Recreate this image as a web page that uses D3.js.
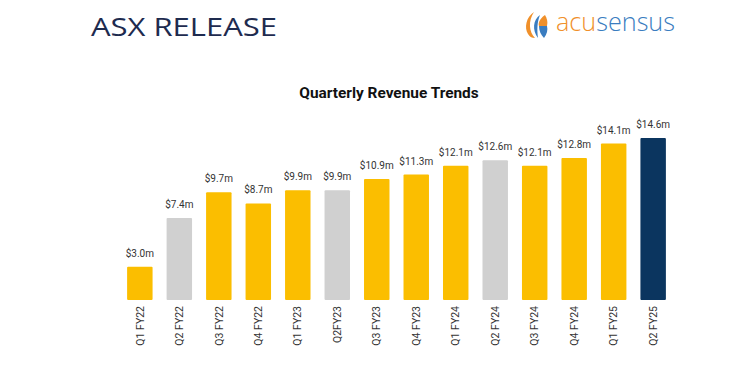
<!DOCTYPE html>
<html>
<head>
<meta charset="utf-8">
<script src="https://cdn.jsdelivr.net/npm/d3@7"></script>
<style>
  body { margin: 0; background: #fff; }
</style>
</head>
<body>
<div id="chart"></div>
<script>
// Chart data
const quarters = ["Q1 FY22", "Q2 FY22", "Q3 FY22", "Q4 FY22", "Q1 FY23", "Q2FY23", "Q3 FY23",
  "Q4 FY23", "Q1 FY24", "Q2 FY24", "Q3 FY24", "Q4 FY24", "Q1 FY25", "Q2 FY25"];
const revenue = [3.0, 7.4, 9.7, 8.7, 9.9, 9.9, 10.9, 11.3, 12.1, 12.6, 12.1, 12.8, 14.1, 14.6];
const barKinds = ["odd", "even", "odd", "odd", "odd", "even", "odd",
  "odd", "odd", "even", "odd", "odd", "odd", "latest"];

const width = 752;
const height = 392;

const kindColor = { odd: "#FBBE00", even: "#D0D0D0", latest: "#0B355F" };

const svg = d3.select("#chart").append("svg")
  .attr("width", width)
  .attr("height", height);

// Header
svg.append("text")
  .attr("x", 91)
  .attr("y", 36)
  .attr("textLength", 186)
  .attr("lengthAdjust", "spacingAndGlyphs")
  .style("font-family", "'Open Sans', sans-serif")
  .style("font-size", "25px")
  .style("fill", "#1E2B4F")
  .text("ASX RELEASE");

// Logo
const logo = svg.append("g").attr("transform", "translate(526,12)");
logo.append("path")
  .attr("d", "M8,0 C0,5 -2,16 2,22 C4,25 6,26 9,26 C3,20 2,9 8,0 Z")
  .attr("fill", "#F0902A");
logo.append("path")
  .attr("d", "M14,3 C7,8 6,18 12,26 C11,18 11,10 14,3 Z")
  .attr("fill", "#3A7DC0");
logo.append("path")
  .attr("d", "M19,3 C13,7 12,12 13,14 L21,14 C22,10 21,6 19,3 Z")
  .attr("fill", "#F0902A");
logo.append("path")
  .attr("d", "M13,14 C13,19 15,23 18,26 C21,22 22,18 21,14 Z")
  .attr("fill", "#3A7DC0");

const logoText = svg.append("text")
  .attr("x", 556)
  .attr("y", 31)
  .attr("textLength", 119)
  .attr("lengthAdjust", "spacingAndGlyphs")
  .style("font-family", "'Open Sans', sans-serif")
  .style("font-weight", 300)
  .style("font-size", "25px");
logoText.append("tspan").style("fill", "#F0902A").text("acu");
logoText.append("tspan").style("fill", "#3A7DC0").text("sensus");

// Title
svg.append("text")
  .attr("x", 389)
  .attr("y", 98)
  .attr("text-anchor", "middle")
  .style("font-family", "Roboto, sans-serif")
  .style("font-weight", 700)
  .style("font-size", "15.4px")
  .style("fill", "#111")
  .text("Quarterly Revenue Trends");

// Scales
const x = d3.scaleBand()
  .domain(quarters)
  .range([120, 673])
  .paddingInner(0.355)
  .paddingOuter(0.18);

const y = d3.scaleLinear()
  .domain([0, 14.6])
  .range([300, 138]);

// Bars
svg.selectAll("rect.bar")
  .data(quarters)
  .enter()
  .append("rect")
  .attr("class", "bar")
  .attr("x", (d) => x(d))
  .attr("y", (d, i) => y(revenue[i]))
  .attr("width", x.bandwidth())
  .attr("height", (d, i) => y(0) - y(revenue[i]))
  .attr("rx", 1)
  .attr("fill", (d, i) => kindColor[barKinds[i]]);

// Value labels
svg.selectAll("text.value")
  .data(quarters)
  .enter()
  .append("text")
  .attr("class", "value")
  .attr("x", (d) => x(d) + x.bandwidth() / 2)
  .attr("y", (d, i) => y(revenue[i]) - 10)
  .attr("text-anchor", "middle")
  .style("font-family", "Roboto, sans-serif")
  .style("font-size", "10px")
  .style("fill", "#333")
  .text((d, i) => "$" + revenue[i].toFixed(1) + "m");

// Category axis (rotated labels, no line)
const xAxis = svg.append("g")
  .attr("transform", "translate(0,300)")
  .call(d3.axisBottom(x).tickSize(0).tickPadding(0));
xAxis.select(".domain").remove();
xAxis.selectAll("text")
  .attr("transform", "rotate(-90)")
  .attr("x", -6)
  .attr("y", 0)
  .attr("dy", "0.35em")
  .attr("text-anchor", "end")
  .style("font-family", "Roboto, sans-serif")
  .style("font-size", "10.5px")
  .style("fill", "#333");
</script>
</body>
</html>
